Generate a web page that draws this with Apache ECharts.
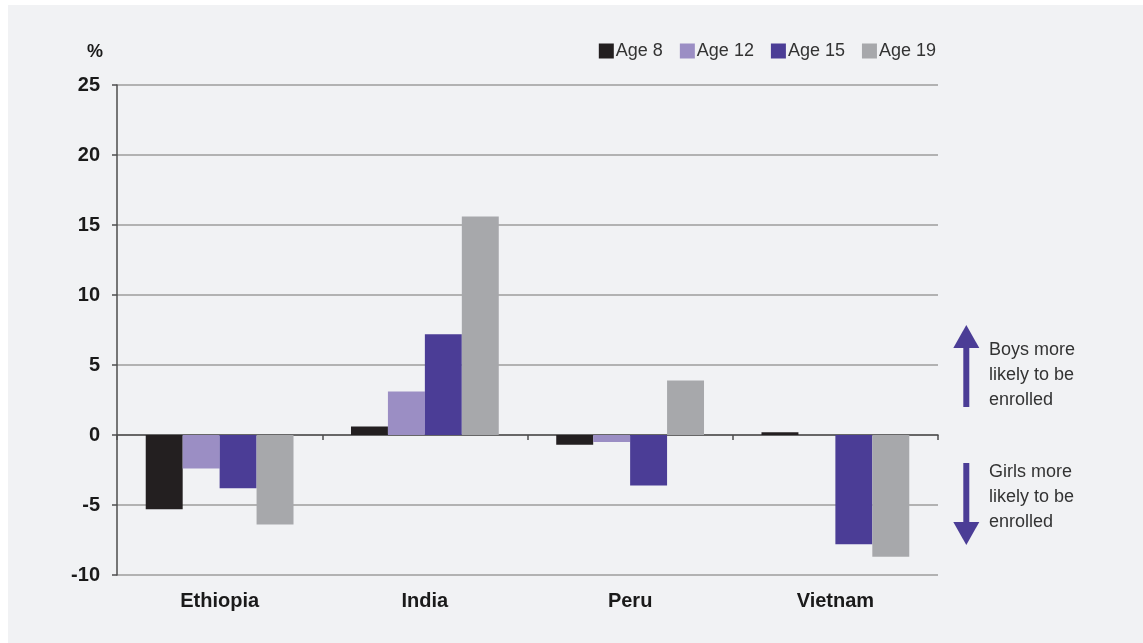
<!DOCTYPE html>
<html>
<head>
<meta charset="utf-8">
<script src="https://cdn.jsdelivr.net/npm/echarts@6/dist/echarts.min.js"></script>
<style>
  html, body { margin: 0; padding: 0; background: #ffffff; }
  #bg { position: absolute; left: 8px; top: 5px; width: 1135px; height: 638px; background: #f1f2f4; }
  #chart { position: absolute; left: 0; top: 0; width: 1143px; height: 643px; }
</style>
</head>
<body>
<div id="bg"></div>
<div id="chart"></div>
<script>
const countries = ['Ethiopia', 'India', 'Peru', 'Vietnam'];
const seriesNames = ['Age 8', 'Age 12', 'Age 15', 'Age 19'];
const age8 = [-5.3, 0.6, -0.7, 0.2];
const age12 = [-2.4, 3.1, -0.5, 0];
const age15 = [-3.8, 7.2, -3.6, -7.8];
const age19 = [-6.4, 15.6, 3.9, -8.7];
const yTicks = [-10, -5, 0, 5, 10, 15, 20, 25];
const colors = ['#231f20', '#9b8ec4', '#4b3d96', '#a7a8ab'];

const FONT = "'Liberation Sans Narrow', 'Arial Narrow', 'Liberation Sans', sans-serif";
const chart = echarts.init(document.getElementById('chart'), null, { renderer: 'canvas' });

const values = [age8, age12, age15, age19];
const series = seriesNames.map((n, i) => ({
  name: n,
  type: 'bar',
  data: values[i],
  xAxisIndex: 0,
  barGap: '0%',
  barCategoryGap: '28%',
  itemStyle: { color: colors[i] },
  emphasis: { disabled: true }
}));

const arrowColor = '#4b3d96';
const noteStyle = { fill: '#333333', font: "18px " + FONT, lineHeight: 25 };

chart.setOption({
  backgroundColor: 'transparent',
  animation: false,
  textStyle: { fontFamily: FONT },
  grid: { left: 117, right: 205, top: 85, bottom: 68, containLabel: false },
  title: {
    text: '%', left: 82, top: 38,
    textStyle: { fontFamily: FONT, fontWeight: 'bold', fontSize: 18, color: '#1a1a1a' }
  },
  legend: {
    data: seriesNames,
    right: 202, top: 37,
    itemWidth: 15, itemHeight: 15, itemGap: 17,
    icon: 'rect',
    textStyle: { fontFamily: FONT, fontSize: 18, color: '#333333', padding: [0, 0, 0, -3] }
  },
  xAxis: [
    {
      type: 'category', data: countries,
      axisLine: { onZero: true, lineStyle: { color: '#4d4d4d', width: 1.5 } },
      axisTick: { show: true, inside: false, length: 5, lineStyle: { color: '#4d4d4d', width: 1.5 } },
      axisLabel: { show: false },
      splitLine: { show: false }
    },
    {
      type: 'category', data: countries, position: 'bottom',
      axisLine: { show: false, onZero: false },
      axisTick: { show: false },
      axisLabel: { show: true, margin: 16, fontFamily: FONT, fontWeight: 'bold', fontSize: 20, color: '#1a1a1a' },
      splitLine: { show: false }
    }
  ],
  yAxis: {
    type: 'value', min: yTicks[0], max: yTicks[yTicks.length - 1], interval: 5,
    axisLine: { show: true, lineStyle: { color: '#4d4d4d', width: 1.5 } },
    axisTick: { show: true, length: 5, lineStyle: { color: '#4d4d4d', width: 1.5 } },
    axisLabel: { margin: 17, fontFamily: FONT, fontWeight: 'bold', fontSize: 20, color: '#1a1a1a' },
    splitLine: { show: true, lineStyle: { color: '#9d9d9d', width: 1.5 } }
  },
  series: series,
  graphic: [
    { type: 'rect', shape: { x: 963.3, y: 345, width: 6, height: 62 }, style: { fill: arrowColor } },
    { type: 'polygon', shape: { points: [[966.3, 325], [953.3, 348], [979.3, 348]] }, style: { fill: arrowColor } },
    { type: 'rect', shape: { x: 963.3, y: 463, width: 6, height: 61 }, style: { fill: arrowColor } },
    { type: 'polygon', shape: { points: [[953.3, 522], [979.3, 522], [966.3, 545]] }, style: { fill: arrowColor } },
    { type: 'text', left: 989, top: 338, style: Object.assign({ text: 'Boys more\nlikely to be\nenrolled' }, noteStyle) },
    { type: 'text', left: 989, top: 460, style: Object.assign({ text: 'Girls more\nlikely to be\nenrolled' }, noteStyle) }
  ]
});
</script>
</body>
</html>
